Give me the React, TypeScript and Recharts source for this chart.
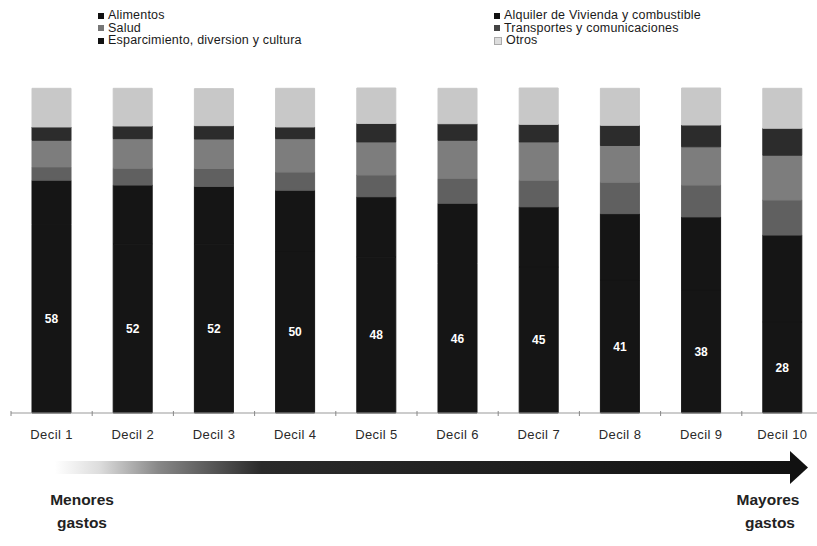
import { BarChart, Bar, XAxis, YAxis, Legend, LabelList } from 'recharts'

// gasto por decil (%)
const deciles = ['Decil 1', 'Decil 2', 'Decil 3', 'Decil 4', 'Decil 5', 'Decil 6', 'Decil 7', 'Decil 8', 'Decil 9', 'Decil 10']
const alimentos = [58, 52, 52, 50, 48, 46, 45, 41, 38, 28]
const alquiler = [13.7, 18.2, 17.8, 18.6, 18.6, 18.6, 18.5, 20.4, 22.4, 26.8]
const salud = [4.1, 5.2, 5.5, 5.6, 6.7, 7.7, 8.2, 9.7, 9.8, 10.8]
const transportes = [8.2, 9.1, 9.1, 10.3, 10.2, 11.7, 11.8, 11.3, 11.8, 13.8]
const esparcimiento = [4.1, 3.9, 4.1, 3.6, 5.7, 5.1, 5.4, 6.2, 6.7, 8.3]
const otros = [11.9, 11.6, 11.4, 11.9, 10.9, 10.9, 11.2, 11.4, 11.4, 12.3]

const series = [
  { key: 'alimentos', name: 'Alimentos', color: '#151515', mark: '#111' },
  { key: 'alquiler', name: 'Alquiler de Vivienda y combustible', color: '#151515', mark: '#111' },
  { key: 'salud', name: 'Salud', color: '#606060', mark: '#777' },
  { key: 'transportes', name: 'Transportes y comunicaciones', color: '#7d7d7d', mark: '#444' },
  { key: 'esparcimiento', name: 'Esparcimiento, diversion y cultura', color: '#2c2c2c', mark: '#111' },
  { key: 'otros', name: 'Otros', color: '#c8c8c8', mark: '#ddd' },
]

const data = deciles.map((d, i) => ({
  decil: d,
  alimentos: alimentos[i],
  alquiler: alquiler[i],
  salud: salud[i],
  transportes: transportes[i],
  esparcimiento: esparcimiento[i],
  otros: otros[i],
}))

const font = "'Liberation Sans', Arial, sans-serif"
const BAND = 81.2

// leyenda en dos columnas, como en el original
const legendOrder = [
  ['alimentos', 'salud', 'esparcimiento'],
  ['alquiler', 'transportes', 'otros'],
]

function LegendBox() {
  return (
    <div style={{ position: 'relative', height: 82, fontFamily: font, fontSize: 12.5, color: '#1a1a1a' }}>
      {legendOrder.map((col, c) =>
        col.map((k, r) => {
          const s = series.find((x) => x.key === k)!
          return (
            <div
              key={k}
              style={{ position: 'absolute', left: c === 0 ? 87 : 483, top: 3 + r * 12.5, whiteSpace: 'nowrap', lineHeight: '13px', letterSpacing: 0.2 }}
            >
              <span
                style={{
                  display: 'inline-block',
                  width: 6,
                  height: 6,
                  marginRight: 4,
                  background: s.mark,
                  border: k === 'otros' ? '1px solid #aaa' : 'none',
                  verticalAlign: 'middle',
                }}
              />
              {s.name}
            </div>
          )
        })
      )}
    </div>
  )
}

function DecilTick(props: any) {
  const { x, y, payload } = props
  return (
    <g>
      <line x1={x - BAND / 2} x2={x - BAND / 2} y1={y - 10} y2={y - 5} stroke="#888" />
      <text x={x} y={y + 18} textAnchor="middle" fontSize={13} fill="#2a2a2a" fontFamily={font} letterSpacing={0.4}>
        {payload.value}
      </text>
    </g>
  )
}

export default function App() {
  return (
    <div style={{ position: 'absolute', left: 0, top: 0, width: 817, height: 546, overflow: 'hidden', background: '#fff' }}>
      <BarChart width={830} height={546} data={data} margin={{ top: 6, right: 7, left: 11, bottom: 0 }} barSize={39}>
        <Legend verticalAlign="top" content={() => <LegendBox />} />
        <XAxis dataKey="decil" height={133} tick={<DecilTick />} tickLine={false} axisLine={{ stroke: '#999' }} interval={0} />
        <YAxis hide domain={[0, 100]} />
        {series.map((s) => (
          <Bar
            key={s.key}
            dataKey={s.key}
            name={s.name}
            stackId="g"
            fill={s.color}
            stroke={s.color}
            strokeWidth={1}
            isAnimationActive={false}
          >
            {s.key === 'alimentos' && (
              <LabelList dataKey="alimentos" position="center" fill="#fff" stroke="none" fontSize={12} fontFamily={font} fontWeight="bold" />
            )}
          </Bar>
        ))}
      </BarChart>
      <svg width={817} height={546} style={{ position: 'absolute', left: 0, top: 0, pointerEvents: 'none' }}>
        <defs>
          <linearGradient id="flecha" x1="0" x2="1" y1="0" y2="0">
            <stop offset="0" stopColor="#fff" />
            <stop offset="0.06" stopColor="#ddd" />
            <stop offset="0.14" stopColor="#888" />
            <stop offset="0.28" stopColor="#2a2a2a" />
            <stop offset="1" stopColor="#111" />
          </linearGradient>
        </defs>
        <rect x={55} y={461} width={737} height={13} fill="url(#flecha)" />
        <polygon points="790,451 808,467.5 790,484" fill="#111" />
        <g fontFamily={font} fontWeight="bold" fontSize={15.5} fill="#222" textAnchor="middle">
          <text x={82} y={505}>Menores</text>
          <text x={82} y={528}>gastos</text>
          <text x={768} y={505}>Mayores</text>
          <text x={770} y={528}>gastos</text>
        </g>
      </svg>
    </div>
  )
}
